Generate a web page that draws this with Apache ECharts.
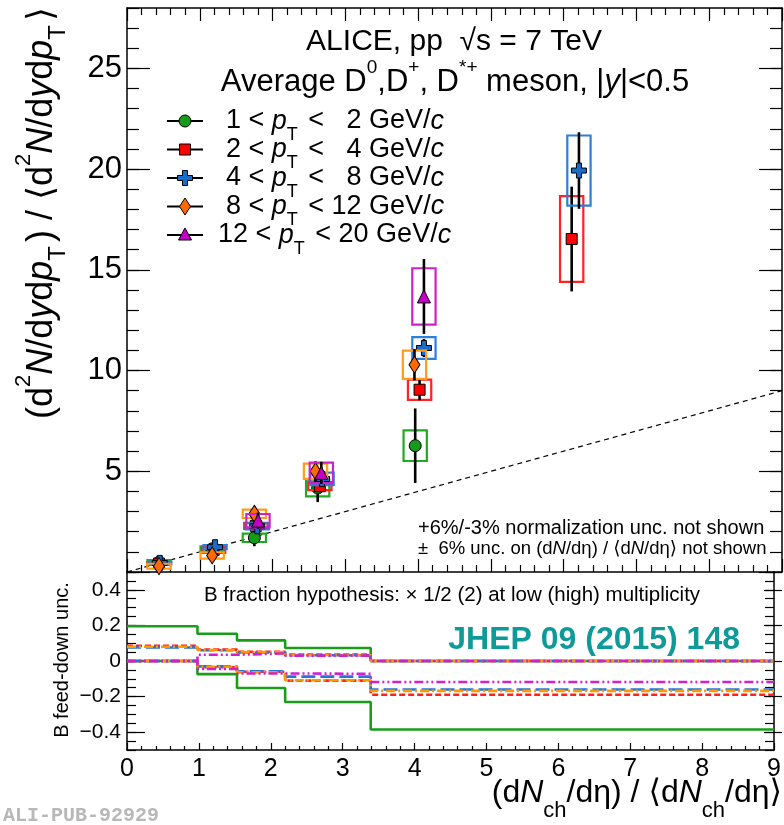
<!DOCTYPE html>
<html><head><meta charset="utf-8">
<script src="https://cdn.jsdelivr.net/npm/echarts@6/dist/echarts.min.js"></script>
<style>html,body{margin:0;padding:0;background:#fff}#c{width:784px;height:825px}</style>
</head><body><div id="c"></div>
<script>
// ---------------- data ----------------
// pT bins (legend)
const ptLabels = [['1','2'],['2','4'],['4','8'],['8','12'],['12','20']];
// 1 < pT < 2 GeV/c
const pt1_x = [0.44, 1.17, 1.75, 2.62, 3.96];
const pt1_y = [0.49, 1.15, 1.70, 4.17, 6.27];
const pt1_stat = [0.06, 0.12, 0.42, 0.70, 1.85];
const pt1_sys = [0.10, 0.12, 0.21, 0.42, 0.76];
// 2 < pT < 4 GeV/c
const pt2_x = [0.44, 1.19, 1.77, 2.65, 4.02, 6.11];
const pt2_y = [0.42, 1.09, 2.29, 4.26, 9.05, 16.53];
const pt2_stat = [0.05, 0.10, 0.20, 0.30, 0.52, 2.60];
const pt2_sys = [0.07, 0.14, 0.15, 0.20, 0.50, 2.13];
// 4 < pT < 8 GeV/c
const pt3_x = [0.45, 1.21, 1.79, 2.68, 4.08, 6.21];
const pt3_y = [0.45, 1.23, 2.27, 4.62, 11.12, 19.93];
const pt3_stat = [0.05, 0.10, 0.25, 0.40, 0.45, 1.90];
const pt3_sys = [0.07, 0.10, 0.15, 0.31, 0.54, 1.74];
// 8 < pT < 12 GeV/c
const pt4_x = [0.44, 1.17, 1.75, 2.59, 3.95];
const pt4_y = [0.29, 0.82, 2.89, 5.00, 10.29];
const pt4_stat = [0.10, 0.20, 0.37, 0.50, 0.78];
const pt4_sys = [0.12, 0.16, 0.21, 0.38, 0.70];
// 12 < pT < 20 GeV/c
const pt5_x = [1.80, 2.67, 4.08];
const pt5_y = [2.55, 4.92, 13.68];
const pt5_stat = [0.40, 0.55, 1.86];
const pt5_sys = [0.33, 0.51, 1.40];
// reference line y = x
const refLine_x = [0, 9];
const refLine_y = [0, 9];
// B feed-down uncertainty (bottom panel), bin edges and per-bin upper/lower values
const fdEdges = [0, 0.98, 1.53, 2.2, 3.39, 9];
const fd1_hi = [0.195, 0.153, 0.116, 0.073, 0];
const fd1_lo = [0, -0.074, -0.152, -0.230, -0.385];
const fd2_hi = [0.085, 0.064, 0.052, 0.036, 0];
const fd2_lo = [0, -0.035, -0.060, -0.110, -0.190];
const fd3_hi = [0.076, 0.060, 0.048, 0.032, 0];
const fd3_lo = [0, -0.030, -0.058, -0.088, -0.160];
const fd4_hi = [0.080, 0.062, 0.050, 0.034, 0];
const fd4_lo = [0, -0.032, -0.064, -0.108, -0.168];
const fd5_hi = [0, 0.035, 0.042, 0.030, 0];
const fd5_lo = [0, -0.045, -0.070, -0.072, -0.118];
// axis ticks
const yTopMajor = [0, 5, 10, 15, 20, 25];
const yBotMajor = [-0.4, -0.2, 0, 0.2, 0.4];

// ---------------- style ----------------
const FONT = 'Liberation Sans, Arial, Helvetica, DejaVu Sans, sans-serif';
const BOX_HW = 0.16; // half width of systematic boxes (x units)
const mk = [
  {fill:'#169a1a', box:'#22a822', sym:'circle', size:12, line:'#1a9e1a', dash:null},
  {fill:'#ff0000', box:'#ff2222', sym:'rect', size:11, line:'#ff2020', dash:[6,3]},
  {fill:'#1a6cc8', box:'#2a7fd8', sym:'path://M-1,-3L1,-3L1,-1L3,-1L3,1L1,1L1,3L-1,3L-1,1L-3,1L-3,-1L-1,-1Z', size:15, line:'#2a74d2', dash:[14,5]},
  {fill:'#ff6a00', box:'#ff9c1a', sym:'diamond', size:[11,17], line:'#ff9900', dash:[9,3,2,3]},
  {fill:'#c400c4', box:'#cc22cc', sym:'triangle', size:13, line:'#d020d0', dash:[9,3,2,3,2,3]}
];
const pts = [
  [pt1_x, pt1_y, pt1_stat, pt1_sys],
  [pt2_x, pt2_y, pt2_stat, pt2_sys],
  [pt3_x, pt3_y, pt3_stat, pt3_sys],
  [pt4_x, pt4_y, pt4_stat, pt4_sys],
  [pt5_x, pt5_y, pt5_stat, pt5_sys]
];
const fds = [[fd1_hi, fd1_lo],[fd2_hi, fd2_lo],[fd3_hi, fd3_lo],[fd4_hi, fd4_lo],[fd5_hi, fd5_lo]];

// ---------------- layout ----------------
const L = 127, W = 655, TOP = 8, H1 = 564, H2 = 178;
const pxPerY1 = H1 / 28;
const pxPerY2 = H2 / 1.0;

const axLine = {show:true, onZero:false, lineStyle:{color:'#000', width:1.5}};
const noLine = {show:false, onZero:false};
const tickStyle = {color:'#000', width:1.2};

const chart = echarts.init(document.getElementById('c'), null, {renderer:'canvas'});

const grid = [
  {left:L, top:TOP, width:W, height:H1},                       // 0 top panel
  {left:L, top:TOP+H1, width:W, height:H2},                    // 1 bottom panel
  {left:L, top:TOP + (28-25)*pxPerY1, width:W, height:25*pxPerY1}, // 2 top major ticks
  {left:L, top:TOP+H1 + 0.1*pxPerY2, width:W, height:0.8*pxPerY2}  // 3 bottom major ticks
];

const xAxis = [
  {gridIndex:0, type:'value', min:0, max:9, interval:1, position:'bottom', axisLine:axLine,
   axisTick:{inside:true, length:13, lineStyle:tickStyle}, minorTick:{show:true, splitNumber:5, length:7, lineStyle:tickStyle},
   axisLabel:{show:false}, splitLine:{show:false}},
  {gridIndex:0, type:'value', min:0, max:9, interval:1, position:'top', axisLine:axLine,
   axisTick:{inside:true, length:13, lineStyle:tickStyle}, minorTick:{show:true, splitNumber:5, length:7, lineStyle:tickStyle},
   axisLabel:{show:false}, splitLine:{show:false}},
  {gridIndex:1, type:'value', min:0, max:9, interval:1, position:'bottom', axisLine:axLine,
   axisTick:{inside:true, length:7, lineStyle:tickStyle}, minorTick:{show:true, splitNumber:5, length:4, lineStyle:tickStyle},
   axisLabel:{show:true, fontSize:25, fontFamily:FONT, color:'#000', margin:7}, splitLine:{show:false}},
  {gridIndex:2, type:'value', min:0, max:9, show:false, axisLine:noLine},
  {gridIndex:3, type:'value', min:0, max:9, show:false, axisLine:noLine}
];

const fmtMinus = v => (v === 0 ? '0' : (v < 0 ? '\u2212' + Math.abs(v).toFixed(1) : v.toFixed(1)));
const yAxis = [
  {gridIndex:0, type:'value', min:0, max:28, interval:1, position:'left', axisLine:axLine,
   axisTick:{inside:true, length:12, lineStyle:tickStyle}, axisLabel:{show:false}, splitLine:{show:false}},
  {gridIndex:0, type:'value', min:0, max:28, interval:1, position:'right', axisLine:axLine,
   axisTick:{inside:true, length:12, lineStyle:tickStyle}, axisLabel:{show:false}, splitLine:{show:false}},
  {gridIndex:1, type:'value', min:-0.5, max:0.5, interval:0.05, position:'left', axisLine:axLine,
   axisTick:{inside:true, length:9, lineStyle:tickStyle}, axisLabel:{show:false}, splitLine:{show:false}},
  {gridIndex:1, type:'value', min:-0.5, max:0.5, interval:0.05, position:'right', axisLine:axLine,
   axisTick:{inside:true, length:9, lineStyle:tickStyle}, axisLabel:{show:false}, splitLine:{show:false}},
  {gridIndex:2, type:'value', min:yTopMajor[0], max:yTopMajor[yTopMajor.length-1], interval:5, position:'left',
   axisLine:noLine, axisTick:{inside:true, length:23, lineStyle:tickStyle},
   axisLabel:{show:true, fontSize:31, fontFamily:FONT, color:'#000', margin:5, formatter:v => (v === 0 ? '' : String(v))},
   splitLine:{show:false}},
  {gridIndex:2, type:'value', min:yTopMajor[0], max:yTopMajor[yTopMajor.length-1], interval:5, position:'right',
   axisLine:noLine, axisTick:{inside:true, length:23, lineStyle:tickStyle}, axisLabel:{show:false}, splitLine:{show:false}},
  {gridIndex:3, type:'value', min:yBotMajor[0], max:yBotMajor[yBotMajor.length-1], interval:0.2, position:'left',
   axisLine:noLine, axisTick:{inside:true, length:18, lineStyle:tickStyle},
   axisLabel:{show:true, fontSize:21, fontFamily:FONT, color:'#000', margin:6, formatter:fmtMinus}, splitLine:{show:false}},
  {gridIndex:3, type:'value', min:yBotMajor[0], max:yBotMajor[yBotMajor.length-1], interval:0.2, position:'right',
   axisLine:noLine, axisTick:{inside:true, length:18, lineStyle:tickStyle}, axisLabel:{show:false}, splitLine:{show:false}}
];

const series = [];
// reference dashed line y = x
series.push({type:'line', xAxisIndex:0, yAxisIndex:0, data:refLine_x.map((x,i)=>[x, refLine_y[i]]),
  symbol:'none', lineStyle:{color:'#000', width:1.2, type:[5,4]}, z:1, silent:true, animation:false});

pts.forEach((p, k) => {
  const data = p[0].map((x,i)=>[x, p[1][i], p[2][i], p[3][i]]);
  const col = mk[k];
  // systematic boxes
  series.push({type:'custom', xAxisIndex:0, yAxisIndex:0, data, z:10+k*3, animation:false, clip:true,
    encode:{x:0, y:1},
    renderItem:(params, api) => {
      const x = api.value(0), y = api.value(1), s = api.value(3);
      const a = api.coord([x-BOX_HW, y+s]), b = api.coord([x+BOX_HW, y-s]);
      return {type:'rect', shape:{x:a[0], y:a[1], width:b[0]-a[0], height:b[1]-a[1]},
        style:{fill:'none', stroke:col.box, lineWidth:2.2}};
    }});
  // statistical error bars
  series.push({type:'custom', xAxisIndex:0, yAxisIndex:0, data, z:11+k*3, animation:false, clip:true,
    encode:{x:0, y:1},
    renderItem:(params, api) => {
      const x = api.value(0), y = api.value(1), e = api.value(2);
      const a = api.coord([x, y+e]), b = api.coord([x, y-e]);
      return {type:'line', shape:{x1:a[0], y1:a[1], x2:b[0], y2:b[1]}, style:{stroke:'#000', lineWidth:2.6}};
    }});
  // markers
  series.push({type:'scatter', xAxisIndex:0, yAxisIndex:0, data:data.map(d=>[d[0], d[1]]), z:12+k*3,
    symbol:col.sym, symbolSize:col.size, animation:false,
    itemStyle:{color:col.fill, borderColor:'#000', borderWidth:1, opacity:1}});
});

// bottom panel step lines
fds.forEach((f, k) => {
  const col = mk[k];
  [f[0], f[1]].forEach(vals => {
    const data = fdEdges.map((x,i)=>[x, vals[Math.min(i, vals.length-1)]]);
    series.push({type:'line', xAxisIndex:2, yAxisIndex:2, data, step:'end', symbol:'none', animation:false,
      z:5+k, lineStyle:{color:col.line, width:2.6, type: col.dash ? col.dash : 'solid'}});
  });
});

// ---------------- texts (graphic) ----------------
const R = (sz, subDrop) => ({
  n:{fontSize:sz, fontFamily:FONT, lineHeight:sz*(subDrop||1.5), verticalAlign:'middle', fill:'#000'},
  i:{fontSize:sz, fontFamily:FONT, fontStyle:'italic', lineHeight:sz*(subDrop||1.5), verticalAlign:'middle', fill:'#000'},
  sup:{fontSize:Math.round(sz*0.62), fontFamily:FONT, lineHeight:Math.round(sz*0.62), verticalAlign:'top', fill:'#000'},
  sub:{fontSize:Math.round(sz*0.68), fontFamily:FONT, lineHeight:Math.round(sz*0.68), verticalAlign:'bottom', fill:'#000'},
  sp:{fontSize:sz, fontFamily:FONT, lineHeight:sz, fill:'#000', width:Math.round(sz*0.12)}
});
function rtext(x, y, text, sz, align, extra, subDrop) {
  return Object.assign({type:'text', x, y, z:100, silent:true,
    style:{text, rich:R(sz, subDrop), fontSize:sz, fontFamily:FONT, fill:'#000', align, verticalAlign:'middle'}}, extra||{});
}

const graphic = [];
graphic.push(rtext(454, 42, '{n|ALICE, pp  \u221As = 7 TeV}', 30, 'center'));
graphic.push(rtext(455, 82, '{n|Average D}{sup|0}{n|,D}{sup|+}{n|, D}{sup|*+}{n| meson, |}{i|y}{n||<0.5}', 31, 'center'));

// legend
const legRows = [121, 149.5, 178, 206.5, 235];
ptLabels.forEach((lab, k) => {
  const y = legRows[k];
  graphic.push({type:'line', z:90, silent:true, shape:{x1:167, y1:y, x2:203, y2:y}, style:{stroke:'#000', lineWidth:2.2}});
  const col = mk[k];
  let shape;
  if (k === 0) shape = {type:'circle', shape:{cx:185, cy:y, r:6}};
  else if (k === 1) shape = {type:'rect', shape:{x:179.5, y:y-5.5, width:11, height:11}};
  else if (k === 2) shape = {type:'polygon', shape:{points:[[182.5,y-7.5],[187.5,y-7.5],[187.5,y-2.5],[192.5,y-2.5],[192.5,y+2.5],[187.5,y+2.5],[187.5,y+7.5],[182.5,y+7.5],[182.5,y+2.5],[177.5,y+2.5],[177.5,y-2.5],[182.5,y-2.5]]}};
  else if (k === 3) shape = {type:'polygon', shape:{points:[[185,y-8.5],[190.5,y],[185,y+8.5],[179.5,y]]}};
  else shape = {type:'polygon', shape:{points:[[185,y-7],[191.5,y+5],[178.5,y+5]]}};
  shape.z = 95; shape.silent = true;
  shape.style = {fill:col.fill, stroke:'#000', lineWidth:1};
  graphic.push(shape);
  const hi = lab[1].length === 1 ? '  ' + lab[1] : lab[1];
  const txt = '{n|' + lab[0] + ' < }{i|p}{sub|T}{sp| }{n| < ' + hi + ' GeV/}{i|c}';
  graphic.push(rtext(k === 4 ? 218 : 226, y, txt, 27, 'left', null, 1.7));
});

// normalization notes
graphic.push(rtext(418, 528, '{n|+6%/-3% normalization unc. not shown}', 20, 'left'));
graphic.push(rtext(418, 549, '{n|\u00B1  6% unc. on (d}{i|N}{n|/d\u03B7) / \u27E8d}{i|N}{n|/d\u03B7\u27E9 not shown}', 18.5, 'left'));

// bottom panel notes
graphic.push(rtext(452, 595, '{n|B fraction hypothesis: \u00D7 1/2 (2) at low (high) multiplicity}', 20.5, 'center'));
graphic.push({type:'text', x:740, y:640, z:100, silent:true,
  style:{text:'JHEP 09 (2015) 148', fontSize:32, fontWeight:'bold', fontFamily:FONT, fill:'#0f9a9a', align:'right', verticalAlign:'middle'}});

// x axis title
graphic.push(rtext(782, 793, '{n|(d}{i|N}{sub|ch}{n|/d\u03B7) / \u27E8d}{i|N}{sub|ch}{n|/d\u03B7\u27E9}', 32, 'right', null, 1.8));

// y axis titles
graphic.push(rtext(42, 213,
  '{n|(d}{sup|2}{i|N}{n|/d}{i|y}{n|d}{i|p}{sub|T}{sp| }{n|) / \u27E8d}{sup|2}{i|N}{n|/d}{i|y}{n|d}{i|p}{sub|T}{sp| }{n|\u27E9}',
  36, 'center', {rotation:Math.PI/2}, 1.6));
graphic.push(rtext(62, 660, '{n|B feed-down unc.}', 20, 'center', {rotation:Math.PI/2}));

// watermark
graphic.push({type:'text', x:3, y:816, z:100, silent:true,
  style:{text:'ALI-PUB-92929', fontSize:20, fontWeight:'bold', fontFamily:'Liberation Mono, DejaVu Sans Mono, monospace', fill:'#b8b8b8', align:'left', verticalAlign:'middle'}});

chart.setOption({animation:false, backgroundColor:'#fff', grid, xAxis, yAxis, series, graphic});
</script></body></html>
